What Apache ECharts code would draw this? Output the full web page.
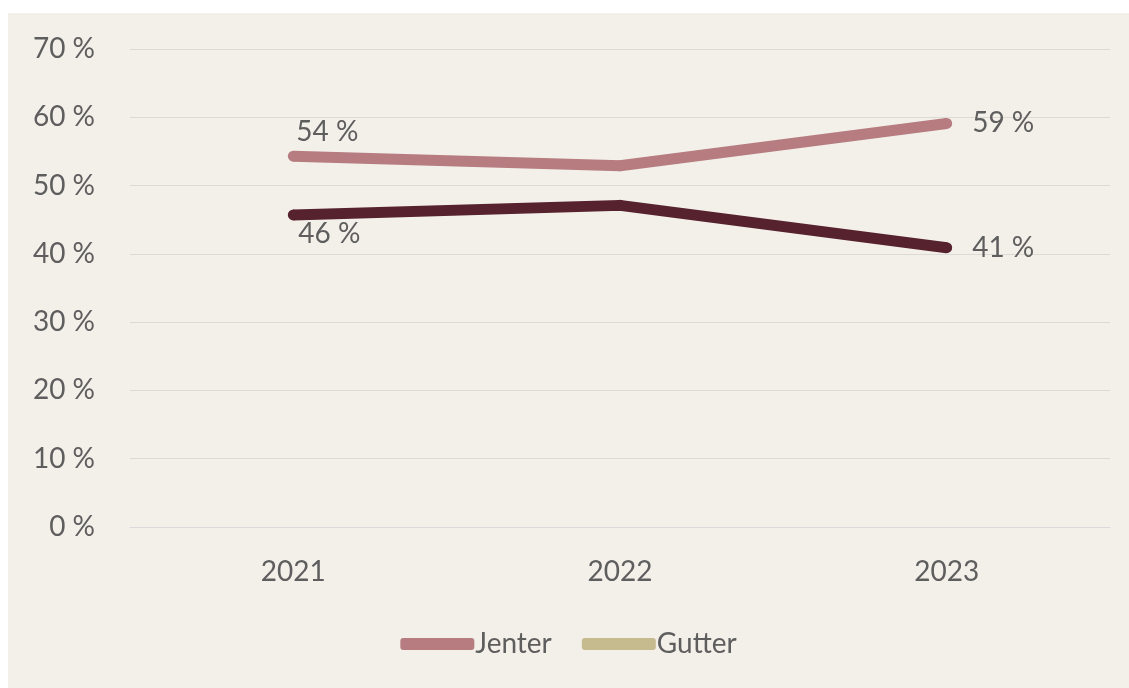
<!DOCTYPE html>
<html>
<head>
<meta charset="utf-8">
<script src="https://cdn.jsdelivr.net/npm/echarts@6/dist/echarts.min.js"></script>
<style>
  html, body { margin: 0; padding: 0; background: #ffffff; }
  #frame { position: absolute; left: 8px; top: 13px; width: 1121px; height: 675px; background: #f3f0ea; }
  #chart { width: 100%; height: 100%; }
</style>
</head>
<body>
<div id="frame"><div id="chart"></div></div>
<script>
const years = ['2021', '2022', '2023']
const jenter = [54.3, 52.9, 59.1]
const gutter = [45.7, 47.1, 40.9]
const yTicks = { min: 0, max: 70, interval: 10 }

const textColor = '#5e5e5e'
const font = 'Lato, "Open Sans", sans-serif'
const fontSize = 28

// labels only on first and last point
function withLabels(values, firstLabel) {
  return values.map((v, i) => {
    if (i === 0) return { value: v, label: { show: true, ...firstLabel } }
    if (i === values.length - 1) return { value: v, label: { show: true, position: 'right', distance: 20 } }
    return { value: v }
  })
}

const labelStyle = {
  color: textColor, fontSize, fontFamily: font,
  formatter: p => Math.round(p.value) + ' %'
}

const chart = echarts.init(document.getElementById('chart'))
chart.setOption({
  backgroundColor: 'transparent',
  animation: false,
  grid: { left: 122, right: 19, top: 36, bottom: 161 },
  legend: {
    bottom: 25,
    left: 'center',
    icon: 'roundRect',
    itemWidth: 74,
    itemHeight: 12,
    itemGap: 30,
    textStyle: { color: textColor, fontSize, fontFamily: font, padding: [0, 0, 0, -4] },
    data: [
      { name: 'Jenter' },
      { name: 'Gutter', itemStyle: { color: '#c5bb8f' } }
    ]
  },
  xAxis: {
    type: 'category',
    data: years,
    axisLine: { lineStyle: { color: '#d9d9d9' } },
    axisTick: { show: false },
    axisLabel: { color: textColor, fontSize, fontFamily: font, margin: 31 }
  },
  yAxis: {
    type: 'value',
    ...yTicks,
    axisLabel: { formatter: '{value} %', color: textColor, fontSize, fontFamily: font, margin: 35 },
    splitLine: { lineStyle: { color: '#dcdad4' } },
    axisLine: { show: false },
    axisTick: { show: false }
  },
  series: [
    {
      name: 'Jenter',
      type: 'line',
      data: withLabels(jenter, { position: 'top', offset: [34, 0] }),
      symbol: 'circle',
      symbolSize: 11,
      lineStyle: { width: 11, color: '#b67c80' },
      itemStyle: { color: '#b67c80' },
      label: labelStyle
    },
    {
      name: 'Gutter',
      type: 'line',
      data: withLabels(gutter, { position: 'bottom', offset: [36, -5] }),
      symbol: 'circle',
      symbolSize: 11,
      lineStyle: { width: 11, color: '#56222e' },
      itemStyle: { color: '#56222e' },
      label: labelStyle
    }
  ]
})
</script>
</body>
</html>
